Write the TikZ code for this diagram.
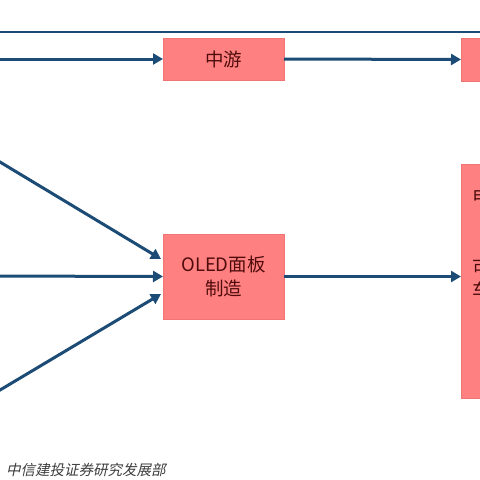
\documentclass[tikz,border=0pt]{standalone}
\usepackage{fontspec}
\usetikzlibrary{arrows.meta}
\newfontfamily\cjk{Noto Sans CJK SC}
\newfontfamily\cjkslant[FakeSlant=0.22]{Noto Sans CJK SC}
\definecolor{boxfill}{RGB}{255,128,128}
\definecolor{boxedge}{RGB}{240,118,118}
\definecolor{boxtext}{RGB}{80,12,12}
\definecolor{arrowblue}{RGB}{28,76,118}
\definecolor{footgray}{RGB}{60,60,60}
\tikzset{
  pinkbox/.style={draw=boxedge, line width=0.6pt, fill=boxfill, inner sep=0pt, outer sep=0pt,
    text=boxtext, font=\cjk\fontsize{18.5}{23.5}\selectfont, align=center},
  flow/.style={draw=arrowblue, line width=3pt, -{Triangle[length=10pt,width=11pt]}},
  plainline/.style={draw=arrowblue, line width=2.6pt},
  parttext/.style={text=boxtext, font=\cjk\fontsize{18.5}{23.5}\selectfont, anchor=west, inner sep=0pt}
}
\begin{document}
\begin{tikzpicture}[x=1pt,y=-1pt]
\useasboundingbox (0,0) rectangle (480,480);
\fill[white] (0,0) rectangle (480,480);
\clip (0,0) rectangle (480,480);
% boxes
\node[pinkbox, minimum width=121pt, minimum height=42pt] (mid) at (223.5,59) {中游};
\node[pinkbox, minimum width=121pt, minimum height=85pt] (oled) at (223.5,276.5) {OLED面板\\制造};
\node[pinkbox, minimum width=40pt, minimum height=43pt, anchor=west] (down) at (461,59.5) {};
\node[pinkbox, minimum width=40pt, minimum height=234pt, anchor=north west] (apps) at (461,164) {};
\node[parttext] (t1) at (472.5,196.5) {电视};
\node[parttext] (t2) at (472.5,267) {可穿戴};
\node[parttext] (t3) at (472.5,290) {车载};
% coordinates for free ends
\coordinate (topL) at (0,32);
\coordinate (topR) at (480,32);
\coordinate (inTop) at (-10,59);
\coordinate (inA) at (-10,156);
\coordinate (inB) at (-10,276);
\coordinate (inC) at (-10,396);
% connectors
\draw[plainline] (topL) -- (topR);
\draw[flow] (inTop) -- (mid.west);
\draw[flow] (mid.east) -- (down.west);
\draw[flow] (inA) -- (161,259);
\draw[flow] (inB) -- (oled.west);
\draw[flow] (inC) -- (161,294);
\draw[flow] (oled.east) -- (apps.west |- oled.east);
% footer
\node[anchor=west, inner sep=0pt, text=footgray, font=\cjkslant\fontsize{14.5}{16}\selectfont] (foot) at (6,469.5) {中信建投证券研究发展部};
\end{tikzpicture}
\end{document}
